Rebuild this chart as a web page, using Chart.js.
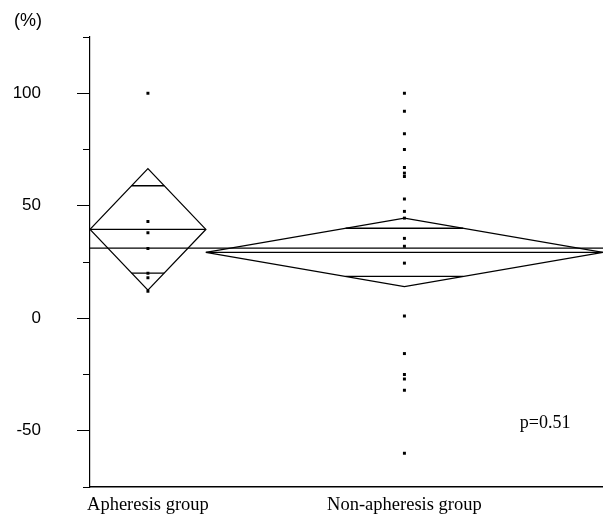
<!DOCTYPE html>
<html>
<head>
<meta charset="utf-8">
<title>Apheresis vs non-apheresis</title>
<script src="https://cdn.jsdelivr.net/npm/chart.js@4.4.1/dist/chart.umd.min.js"></script>
<style>
  html, body { margin: 0; padding: 0; background: #fff; }
  #wrap { width: 603px; height: 517px; position: relative; }
</style>
</head>
<body>
<div id="wrap"><canvas id="chart"></canvas></div>
<script>
// Groups (x axis) and how many patients each holds (sets diamond width)
const categories = ['Apheresis group', 'Non-apheresis group'];
const groupN = [7, 24];

// Individual values, % change
const apheresisValues = [100, 43, 38, 31, 20, 18, 12];
const nonApheresisValues = [100, 92, 82, 75, 67, 64.5, 63, 53, 47.5, 44.5, 35.5, 32, 24.5,
  1, -15.7, -25, -27, -32, -60];

// Means diamond: group mean, half height of the 95% CI, overlap mark offset
const groupMeans = [39.5, 29.3];
const ciHalf = [27, 15.2];
const overlapOffset = [19.4, 10.7];
const grandMean = 31.2;

// Y axis
const yMin = -75;
const yMax = 125;
const yStep = 25;
const yLabelStep = 50;

const pValueText = 'p=0.51';

// Group extents along x, derived from the counts
const total = groupN.reduce((a, b) => a + b, 0);
const lefts = [];
let acc = 0;
groupN.forEach(n => { lefts.push(acc); acc += n; });
const rights = groupN.map((n, i) => lefts[i] + n);
const centers = groupN.map((n, i) => lefts[i] + n / 2);

function lineSet(points, width) {
  return {
    type: 'scatter',
    data: points,
    showLine: true,
    borderColor: '#000',
    borderWidth: width || 1.3,
    pointRadius: 0,
    tension: 0,
    fill: false
  };
}

const datasets = [];

// Grand mean across both groups
datasets.push(lineSet([{ x: 0, y: grandMean }, { x: total, y: grandMean }], 1.3));

categories.forEach((cat, i) => {
  const l = lefts[i], r = rights[i], c = centers[i];
  const m = groupMeans[i], h = ciHalf[i], d = overlapOffset[i];
  // diamond outline
  datasets.push(lineSet([
    { x: l, y: m }, { x: c, y: m + h }, { x: r, y: m }, { x: c, y: m - h }, { x: l, y: m }
  ]));
  // group mean line
  datasets.push(lineSet([{ x: l, y: m }, { x: r, y: m }]));
  // overlap marks, drawn between the diamond edges
  const half = (r - l) / 2 * (1 - d / h);
  datasets.push(lineSet([{ x: c - half, y: m + d }, { x: c + half, y: m + d }]));
  datasets.push(lineSet([{ x: c - half, y: m - d }, { x: c + half, y: m - d }]));
});

// Raw points
[apheresisValues, nonApheresisValues].forEach((vals, i) => {
  datasets.push({
    type: 'scatter',
    data: vals.map(v => ({ x: centers[i], y: v })),
    pointStyle: 'rect',
    pointRadius: 2.1,
    pointBorderWidth: 0,
    backgroundColor: '#000',
    borderColor: '#000'
  });
});

// p value written inside the plot
const pValuePlugin = {
  id: 'pValue',
  afterDatasetsDraw(chart) {
    const { ctx, scales } = chart;
    ctx.save();
    ctx.font = '18px "Liberation Serif", "Times New Roman", serif';
    ctx.fillStyle = '#000';
    ctx.textAlign = 'center';
    ctx.textBaseline = 'alphabetic';
    ctx.fillText(pValueText, scales.x.getPixelForValue(27.5), scales.y.getPixelForValue(-48.8));
    ctx.restore();
  }
};

Chart.defaults.color = '#000';
Chart.defaults.font.family = '"Liberation Sans", Arial, sans-serif';

new Chart(document.getElementById('chart'), {
  type: 'scatter',
  data: { datasets: datasets },
  options: {
    responsive: true,
    maintainAspectRatio: false,
    animation: false,
    events: [],
    layout: { autoPadding: false, padding: { left: 14, right: 0, top: 0, bottom: 0 } },
    plugins: {
      legend: { display: false },
      tooltip: { enabled: false },
      title: {
        display: true,
        text: '(%)',
        align: 'start',
        color: '#000',
        font: { size: 18, weight: 'normal' },
        padding: { top: 10, bottom: 5.4 }
      }
    },
    scales: {
      x: {
        type: 'linear',
        min: 0,
        max: total,
        afterBuildTicks(scale) {
          scale.ticks = centers.map(v => ({ value: v }));
        },
        afterFit(scale) {
          scale.height = 30;
          scale.paddingLeft = 0;
          scale.paddingRight = 0;
        },
        grid: { display: true, drawOnChartArea: false, drawTicks: false },
        border: { display: true, color: '#000', width: 1.4 },
        ticks: {
          autoSkip: false,
          maxRotation: 0,
          padding: 7,
          font: { family: '"Liberation Serif", "Times New Roman", serif', size: 18.5 },
          callback: (v, i) => categories[i]
        }
      },
      y: {
        min: yMin,
        max: yMax,
        afterFit(scale) {
          scale.width = 76;
          // no extra room above/below for the end labels
          scale.paddingTop = 0;
          scale.paddingBottom = 0;
        },
        grid: {
          display: true,
          drawOnChartArea: false,
          drawTicks: true,
          tickLength: 13,
          tickColor: '#000',
          tickWidth: 1,
          // minor ticks are drawn shorter
          tickBorderDash: ctx => (ctx.tick && ctx.tick.value % yLabelStep === 0) ? [] : [0, 6, 7]
        },
        border: { display: true, color: '#000', width: 1.2 },
        ticks: {
          stepSize: yStep,
          padding: 36,
          font: { size: 17 },
          callback: v => (v % yLabelStep === 0 ? String(v) : '')
        }
      }
    }
  },
  plugins: [pValuePlugin]
});
</script>
</body>
</html>
